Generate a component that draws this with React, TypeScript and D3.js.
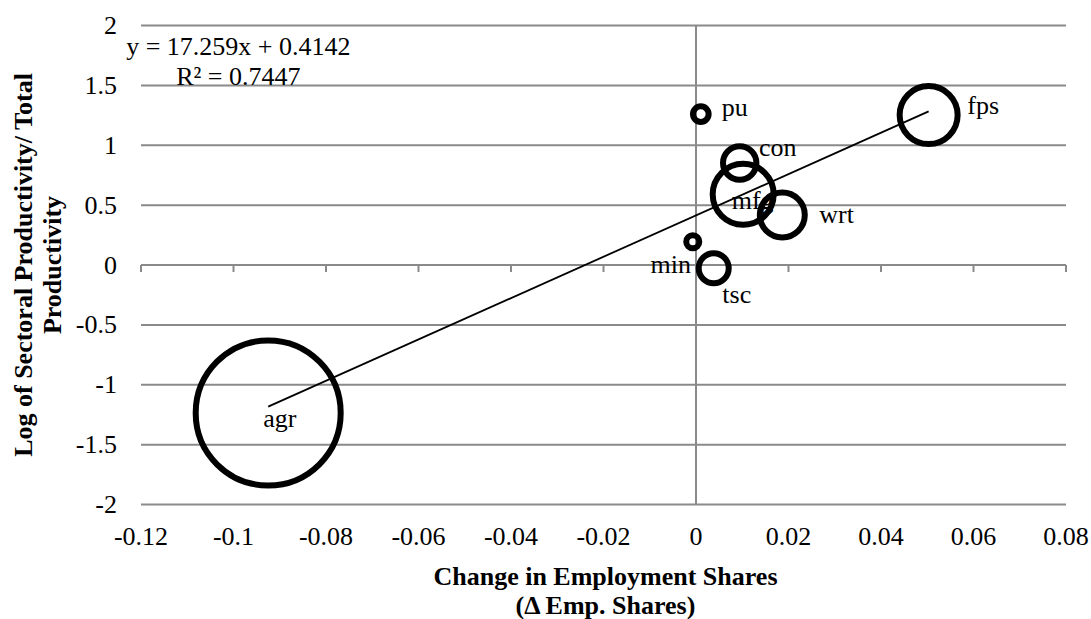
import React from "react";
import * as d3 from "d3";

// Sectors, change in employment shares, log relative productivity, bubble size (employment share)
const sectors = ["agr", "min", "con", "mfg", "pu", "wrt", "tsc", "fps"];
const empShareChange = [-0.0925, -0.0007, 0.00945, 0.0102, 0.00104, 0.01866, 0.00383, 0.0503];
const logRelProductivity = [-1.236, 0.194, 0.852, 0.59, 1.26, 0.417, -0.0275, 1.2525];
const bubbleSize = [0.42, 0.0034, 0.0223, 0.0743, 0.0049, 0.0404, 0.018, 0.0672];

// Linear trendline fitted on the sector points
const trendSlope = 17.259;
const trendIntercept = 0.4142;
const trendR2 = 0.7447;

const xTickValues = [-0.12, -0.1, -0.08, -0.06, -0.04, -0.02, 0, 0.02, 0.04, 0.06, 0.08];
const xTickLabels = ["-0.12", "-0.1", "-0.08", "-0.06", "-0.04", "-0.02", "0", "0.02", "0.04", "0.06", "0.08"];
const yTickValues = [-2, -1.5, -1, -0.5, 0, 0.5, 1, 1.5, 2];
const yTickLabels = ["-2", "-1.5", "-1", "-0.5", "0", "0.5", "1", "1.5", "2"];

// Where each sector name sits relative to its bubble centre (px)
const labelPlacement: Record<string, { dx: number; dy: number; anchor: string }> = {
  agr: { dx: 11.7, dy: 14, anchor: "middle" },
  min: { dx: -1.7, dy: 31.6, anchor: "end" },
  con: { dx: 19.3, dy: -6.8, anchor: "start" },
  mfg: { dx: -11.5, dy: 15, anchor: "start" },
  pu: { dx: 21, dy: 2.2, anchor: "start" },
  wrt: { dx: 37, dy: 7.7, anchor: "start" },
  tsc: { dx: 8.6, dy: 34.4, anchor: "start" },
  fps: { dx: 38.6, dy: -0.7, anchor: "start" },
};

const W = 1091;
const H = 619;
const plot = { left: 141, right: 1066, top: 25.5, bottom: 504.5 };
const FONT = "'Liberation Serif', 'Times New Roman', serif";
const GRID = "#8a8a8a";

export default function App() {
  const x = d3.scaleLinear().domain([-0.12, 0.08]).range([plot.left, plot.right]);
  const y = d3.scaleLinear().domain([-2, 2]).range([plot.bottom, plot.top]);
  const r = d3
    .scaleSqrt()
    .domain([0, d3.max(bubbleSize) as number])
    .range([0, 72.5]);

  const points = sectors.map((name, i) => ({
    name,
    x: empShareChange[i],
    y: logRelProductivity[i],
    size: bubbleSize[i],
  }));

  const [xMin, xMax] = d3.extent(empShareChange) as [number, number];
  const trendLine = d3
    .line<number>()
    .x((v) => x(v))
    .y((v) => y(trendSlope * v + trendIntercept));

  const eqCenterX = 238.3;

  return (
    <svg
      width={W}
      height={H}
      style={{ position: "absolute", left: 0, top: 0, background: "#fff" }}
      fontFamily={FONT}
    >
      <rect width={W} height={H} fill="#fff" />
      {/* horizontal gridlines */}
      {yTickValues.map((v) => (
        <line
          key={"g" + v}
          x1={plot.left}
          x2={plot.right}
          y1={y(v)}
          y2={y(v)}
          stroke={GRID}
          strokeWidth={2}
        />
      ))}
      {/* vertical axis at x = 0 */}
      <line x1={x(0)} x2={x(0)} y1={plot.top} y2={plot.bottom} stroke={GRID} strokeWidth={2} />
      {/* horizontal axis at y = 0 with tick marks */}
      <line x1={plot.left} x2={plot.right} y1={y(0)} y2={y(0)} stroke={GRID} strokeWidth={2} />
      {xTickValues.map((v) => (
        <line
          key={"t" + v}
          x1={x(v)}
          x2={x(v)}
          y1={y(0)}
          y2={y(0) + 7}
          stroke={GRID}
          strokeWidth={2}
        />
      ))}

      {/* tick labels */}
      {xTickValues.map((v, i) => (
        <text key={"xl" + v} x={x(v)} y={545} textAnchor="middle" fontSize={26} fill="#000">
          {xTickLabels[i]}
        </text>
      ))}
      {yTickValues.map((v, i) => (
        <text key={"yl" + v} x={117} y={y(v) + 8.5} textAnchor="end" fontSize={26} fill="#000">
          {yTickLabels[i]}
        </text>
      ))}

      {/* bubbles */}
      {points.map((p) => (
        <circle
          key={"b" + p.name}
          cx={x(p.x)}
          cy={y(p.y)}
          r={r(p.size)}
          fill="none"
          stroke="#000"
          strokeWidth={6}
        />
      ))}

      {/* trendline */}
      <path d={trendLine([xMin, xMax]) as string} fill="none" stroke="#000" strokeWidth={1.8} />

      {/* sector labels */}
      {points.map((p) => {
        const lp = labelPlacement[p.name];
        return (
          <text
            key={"l" + p.name}
            x={x(p.x) + lp.dx}
            y={y(p.y) + lp.dy}
            textAnchor={lp.anchor}
            fontSize={26}
            fill="#000"
          >
            {p.name}
          </text>
        );
      })}

      {/* trendline equation */}
      <text x={eqCenterX} y={55} textAnchor="middle" fontSize={26} fill="#000">
        {`y = ${trendSlope}x + ${trendIntercept}`}
      </text>
      <text x={eqCenterX} y={85} textAnchor="middle" fontSize={26} fill="#000">
        {`R² = ${trendR2}`}
      </text>

      {/* axis titles */}
      <text x={605.5} y={585} textAnchor="middle" fontSize={26} fontWeight="bold" fill="#000">
        Change in Employment Shares
      </text>
      <text x={605.5} y={614} textAnchor="middle" fontSize={26} fontWeight="bold" fill="#000">
        (Δ Emp. Shares)
      </text>
      <g transform="translate(0,265) rotate(-90)">
        <text x={0} y={31.5} textAnchor="middle" fontSize={26} fontWeight="bold" fill="#000">
          Log of Sectoral Productivity/ Total
        </text>
        <text x={0} y={61} textAnchor="middle" fontSize={26} fontWeight="bold" fill="#000">
          Productivity
        </text>
      </g>
    </svg>
  );
}
